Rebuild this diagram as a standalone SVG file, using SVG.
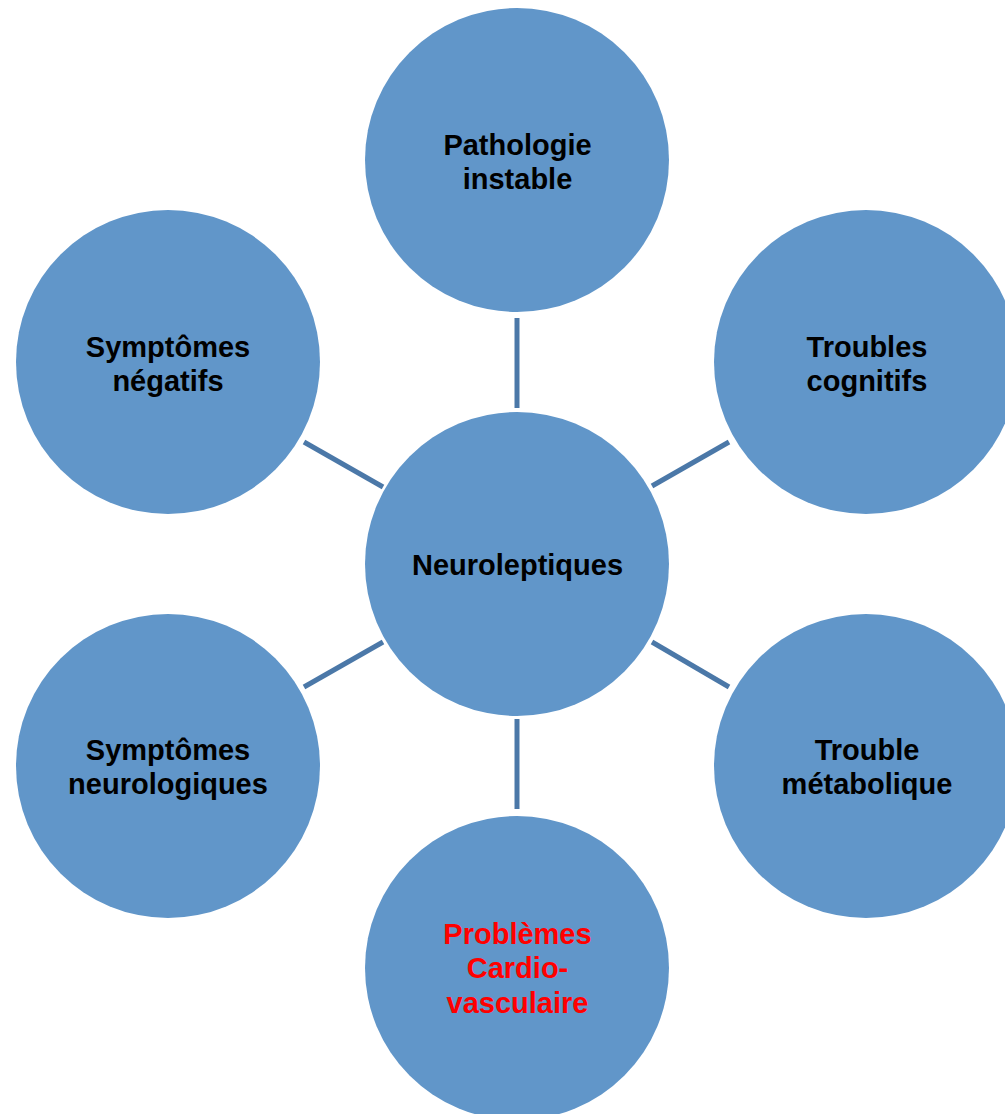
<svg xmlns="http://www.w3.org/2000/svg" width="1005" height="1114" viewBox="0 0 1005 1114">
<style>
.n{fill:#6196C9;}
.t{font-family:"Liberation Sans",Arial,sans-serif;font-weight:bold;font-size:29px;text-anchor:middle;fill:#000;}
.r{fill:#FF0000;}
.c line{stroke:#4B78A8;stroke-width:5;}
</style>
<rect width="1005" height="1114" fill="#fff"/>
<g class="c" id="connectors">
<line x1="517" y1="318" x2="517" y2="408"/>
<line x1="517" y1="719" x2="517" y2="809"/>
<line x1="304" y1="442" x2="383" y2="487"/>
<line x1="652" y1="486" x2="729" y2="442"/>
<line x1="304" y1="687" x2="383" y2="642"/>
<line x1="652" y1="642" x2="729" y2="687"/>
</g>
<g id="center">
<circle class="n" cx="517" cy="564" r="152"/>
<text class="t" x="517.5" y="575">Neuroleptiques</text>
</g>
<g id="top">
<circle class="n" cx="517" cy="160" r="152"/>
<text class="t" x="517.5" y="155">Pathologie</text>
<text class="t" x="517.5" y="189">instable</text>
</g>
<g id="topright">
<circle class="n" cx="866" cy="362" r="152"/>
<text class="t" x="867" y="357">Troubles</text>
<text class="t" x="867" y="391">cognitifs</text>
</g>
<g id="bottomright">
<circle class="n" cx="866" cy="766" r="152"/>
<text class="t" x="867" y="760">Trouble</text>
<text class="t" x="867" y="794">métabolique</text>
</g>
<g id="bottom">
<circle class="n" cx="517" cy="968" r="152"/>
<text class="t r" x="517.5" y="944">Problèmes</text>
<text class="t r" x="517.5" y="978">Cardio-</text>
<text class="t r" x="517.5" y="1013">vasculaire</text>
</g>
<g id="bottomleft">
<circle class="n" cx="168" cy="766" r="152"/>
<text class="t" x="168" y="760">Symptômes</text>
<text class="t" x="168" y="794">neurologiques</text>
</g>
<g id="topleft">
<circle class="n" cx="168" cy="362" r="152"/>
<text class="t" x="168" y="357">Symptômes</text>
<text class="t" x="168" y="391">négatifs</text>
</g>
</svg>
